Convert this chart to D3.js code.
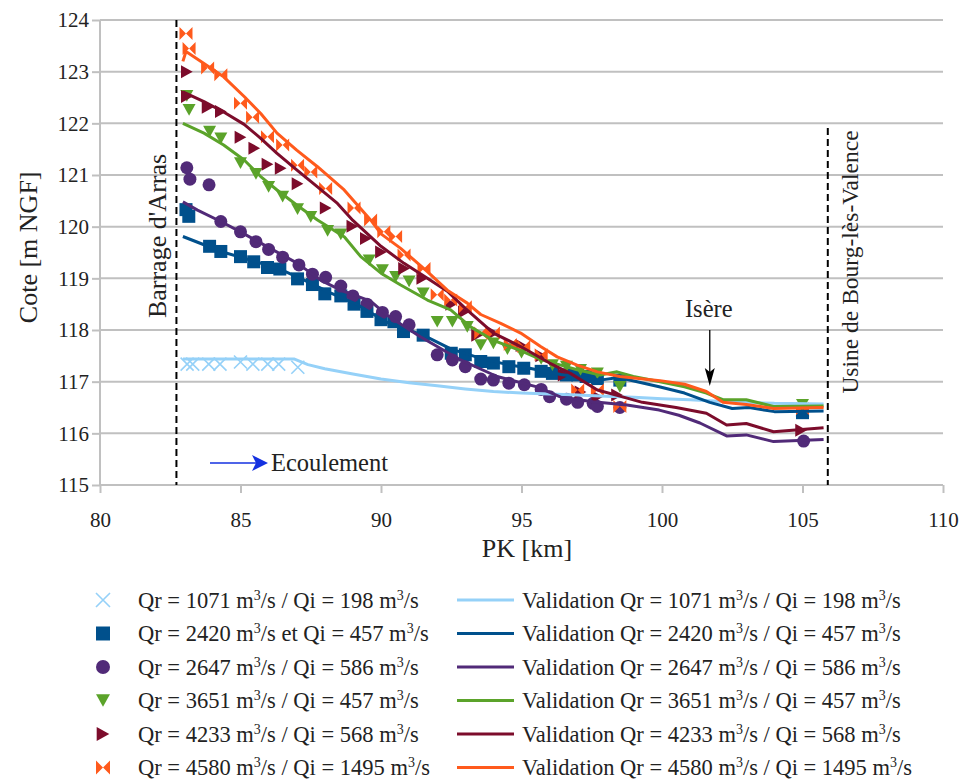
<!DOCTYPE html>
<html><head><meta charset="utf-8">
<script src="https://cdn.jsdelivr.net/npm/d3@7"></script>
<style>body{margin:0;background:#fff}svg{display:block}svg text{font-family:"Liberation Serif","Times New Roman",serif !important;fill:#222}</style>
</head><body><svg id="c" width="960" height="781" font-family="Liberation Serif"></svg>
<script>
// ---------- DATA ----------
const xTicks = [80, 85, 90, 95, 100, 105, 110];
const yTicks = [115, 116, 117, 118, 119, 120, 121, 122, 123, 124];
const seriesNames = ["1071/198", "2420/457", "2647/586", "3651/457", "4233/568", "4580/1495"];
const markerLabels = [
  ["Qr = 1071 m", "3", "/s / Qi = 198 m", "3", "/s"],
  ["Qr = 2420 m", "3", "/s et Qi = 457 m", "3", "/s"],
  ["Qr = 2647 m", "3", "/s / Qi = 586 m", "3", "/s"],
  ["Qr = 3651 m", "3", "/s / Qi = 457 m", "3", "/s"],
  ["Qr = 4233 m", "3", "/s / Qi = 568 m", "3", "/s"],
  ["Qr = 4580 m", "3", "/s / Qi = 1495 m", "3", "/s"]
];
const lineLabels = [
  ["Validation Qr = 1071 m", "3", "/s / Qi = 198 m", "3", "/s"],
  ["Validation Qr = 2420 m", "3", "/s / Qi = 457 m", "3", "/s"],
  ["Validation Qr = 2647 m", "3", "/s / Qi = 586 m", "3", "/s"],
  ["Validation Qr = 3651 m", "3", "/s / Qi = 457 m", "3", "/s"],
  ["Validation Qr = 4233 m", "3", "/s / Qi = 568 m", "3", "/s"],
  ["Validation Qr = 4580 m", "3", "/s / Qi = 1495 m", "3", "/s"]
];
// measured points [PK km, cote m NGF]
const obs1071 = [[83.1,117.34],[83.3,117.34],[83.87,117.34],[84.27,117.34],[85.0,117.38],[85.44,117.34],[85.97,117.34],[86.36,117.34],[87.04,117.28],[105.0,116.45]];
const obs2420 = [[83.06,120.33],[83.16,120.2],[83.9,119.62],[84.3,119.52],[85.0,119.42],[85.47,119.32],[85.96,119.21],[86.4,119.18],[87.03,118.99],[87.56,118.88],[88.0,118.7],[88.57,118.66],[89.04,118.5],[89.5,118.36],[90.0,118.2],[90.46,118.16],[90.8,117.97],[91.5,117.9],[92.5,117.55],[93.0,117.52],[93.55,117.39],[94.0,117.36],[94.55,117.29],[95.08,117.26],[95.7,117.2],[96.1,117.16],[96.6,117.13],[97.0,117.13],[97.3,117.1],[97.7,117.06],[98.5,117.03],[105.0,116.4]];
const obs2647 = [[83.09,121.14],[83.2,120.92],[83.88,120.81],[84.3,120.1],[85.0,119.9],[85.55,119.71],[86.0,119.56],[86.5,119.41],[87.08,119.26],[87.56,119.08],[88.03,119.02],[88.57,118.85],[89.0,118.66],[89.5,118.5],[90.05,118.34],[90.52,118.26],[91.0,118.1],[92.0,117.52],[92.54,117.42],[93.0,117.29],[93.55,117.05],[94.0,117.03],[94.55,116.97],[95.1,116.94],[95.7,116.85],[96.0,116.71],[96.6,116.66],[97.0,116.6],[97.55,116.58],[97.7,116.52],[98.5,116.5],[105.04,115.85]];
const obs3651 = [[83.09,122.53],[83.17,122.26],[83.9,121.84],[84.3,121.71],[85.0,121.23],[85.55,121.02],[86.0,120.77],[86.5,120.58],[87.03,120.34],[87.5,120.19],[88.1,119.92],[88.57,119.85],[89.58,119.35],[90.05,119.16],[90.52,119.03],[91.0,118.94],[91.5,118.71],[92.0,118.16],[92.54,118.16],[93.07,118.06],[93.55,117.71],[94.0,117.74],[94.5,117.63],[95.0,117.56],[95.7,117.44],[96.1,117.32],[96.6,117.29],[97.1,117.23],[97.7,117.16],[98.5,116.9],[105.0,116.55]];
const obs4233 = [[83.09,123.0],[83.09,122.52],[83.83,122.31],[84.3,122.23],[85.0,121.73],[85.49,121.52],[85.96,121.21],[86.43,121.13],[87.03,120.83],[88.03,120.36],[88.98,120.01],[89.46,119.77],[90.0,119.51],[90.82,119.19],[91.47,119.0],[92.5,118.5],[92.95,118.35],[93.42,117.9],[94.0,117.94],[95.0,117.7],[95.7,117.5],[96.5,117.13],[97.1,116.8],[97.7,116.71],[98.4,116.74],[104.95,116.06]];
const obs4580 = [[83.06,123.74],[83.17,123.45],[83.83,123.07],[84.3,122.94],[85.0,122.39],[85.43,122.12],[85.96,121.74],[86.5,121.58],[87.03,121.19],[87.5,121.06],[88.03,120.74],[89.04,120.36],[89.63,120.13],[90.1,119.9],[90.52,119.81],[90.82,119.45],[91.53,119.19],[92.0,118.68],[92.48,118.58],[93.0,118.45],[93.55,117.94],[94.0,117.94],[94.6,117.72],[95.08,117.68],[95.7,117.52],[97.0,116.84],[97.7,116.84],[98.5,116.52],[105.0,116.48]];
// validation (model) lines
const val1071 = [[82.95,117.44],[86.9,117.44],[87.4,117.33],[88,117.25],[89,117.15],[90,117.05],[91,116.98],[92,116.92],[93,116.86],[94,116.81],[95,116.78],[96,116.76],[97,116.74],[98,116.72],[99,116.7],[100,116.67],[101,116.65],[102,116.62],[103,116.6],[104,116.58],[105.75,116.57]];
const val2420 = [[82.95,119.81],[83.7,119.65],[84.3,119.52],[85.5,119.33],[86.4,119.18],[87.25,118.97],[88.2,118.72],[89.2,118.48],[90.2,118.15],[91.5,117.9],[92.5,117.63],[93.5,117.46],[94.5,117.33],[95.2,117.27],[96.4,117.14],[97.4,117.06],[97.8,117.03],[98.45,117.08],[99.9,116.9],[100.8,116.78],[101.7,116.6],[102.5,116.48],[103.1,116.5],[104,116.42],[105.75,116.43]];
const val2647 = [[82.95,120.48],[83.47,120.32],[84.3,120.1],[85,119.9],[85.96,119.61],[87.03,119.29],[87.86,118.96],[88.57,118.77],[89.63,118.56],[90.23,118.28],[91.4,117.87],[92.83,117.42],[94.13,117.1],[95.55,116.9],[96.4,116.7],[97.55,116.61],[98.75,116.55],[99.9,116.45],[100.6,116.35],[101.35,116.2],[102.3,115.95],[103,115.97],[103.97,115.84],[105.75,115.88]];
const val3651 = [[82.95,122.0],[83.7,121.81],[84.4,121.58],[85.13,121.29],[85.72,120.97],[86.3,120.71],[87,120.42],[87.74,120.13],[88.7,119.8],[89.28,119.42],[90,119.1],[90.7,118.87],[91.65,118.58],[92.48,118.39],[93.19,118.06],[94,117.8],[94.97,117.6],[95.68,117.43],[96.4,117.32],[96.98,117.23],[97.8,117.13],[98.4,117.19],[98.98,117.1],[99.93,117.0],[100.8,116.9],[101.58,116.78],[102.17,116.65],[103,116.65],[103.97,116.52],[105.75,116.53]];
const val4233 = [[82.95,122.61],[83.7,122.42],[84.4,122.22],[85.13,121.98],[85.72,121.71],[86.3,121.42],[87,121.1],[87.74,120.77],[88.45,120.45],[89.0,120.12],[90,119.62],[90.82,119.29],[91.65,119.0],[92.36,118.75],[93.0,118.42],[94,117.94],[94.97,117.68],[96,117.36],[96.74,117.16],[97.7,116.84],[98.5,116.72],[99.3,116.6],[100.5,116.5],[101.58,116.39],[102.3,116.16],[103,116.19],[103.97,116.03],[105.75,116.11]];
const val4580 = [[82.95,123.2],[83.06,123.39],[83.7,123.16],[84.4,122.9],[85.13,122.52],[85.72,122.19],[86.3,121.81],[87,121.48],[87.74,121.16],[88.69,120.71],[89.63,120.13],[90,119.86],[90.7,119.58],[91.65,119.13],[92.36,118.77],[93.07,118.52],[93.55,118.3],[94.26,118.13],[94.97,117.94],[95.68,117.68],[96.27,117.48],[96.98,117.32],[97.7,117.19],[98.5,117.1],[99.93,117.02],[100.8,116.95],[101.58,116.81],[102.17,116.6],[103,116.56],[103.97,116.48],[105.75,116.5]];
const barragePK = 82.72, usinePK = 105.9, iserePK = 101.7;

// ---------- STYLE ----------
const colors = ["#95d1f8", "#00508c", "#512a78", "#5ba32a", "#7c0c2b", "#ff5a1c"];
const shapes = ["x", "square", "circle", "down", "right", "bowtie"];
const obsAll = [obs1071, obs2420, obs2647, obs3651, obs4233, obs4580];
const valAll = [val1071, val2420, val2647, val3651, val4233, val4580];
const SERIF = "font-family:'Liberation Serif','Times New Roman',serif";

const svg = d3.select("#c");
const x = d3.scaleLinear().domain([80, 110]).range([100, 943]);
const y = d3.scaleLinear().domain([115, 124]).range([485, 20]);
const FS_TICK = 21, FS_LEG = 22.5, FS_TITLE = 26, FS_ANN = 24.5;

function txt(sel) { return sel.append("text").attr("style", SERIF).attr("fill", "#222"); }

// grid
svg.append("g").selectAll("line").data(yTicks.slice(1)).join("line")
  .attr("x1", x(80)).attr("x2", x(110)).attr("y1", d => y(d)).attr("y2", d => y(d))
  .attr("stroke", "#c0c0c0").attr("stroke-width", 2);

// axes
const gx = svg.append("g").attr("transform", `translate(0,${y(115)})`)
  .call(d3.axisBottom(x).tickValues(xTicks).tickSize(8).tickPadding(19).tickFormat(d3.format("d")));
const gy = svg.append("g").attr("transform", `translate(${x(80)},0)`)
  .call(d3.axisLeft(y).tickValues(yTicks).tickSize(8).tickPadding(3).tickFormat(d3.format("d")));
[gx, gy].forEach(g => {
  g.attr("font-family", null).attr("font-size", null);
  g.select(".domain").attr("stroke", "#c0c0c0").attr("stroke-width", 2);
  g.selectAll(".tick line").attr("stroke", "#c0c0c0").attr("stroke-width", 2);
  g.selectAll(".tick text").attr("style", SERIF).attr("font-size", FS_TICK).attr("fill", "#222");
});
gy.select(".domain").attr("d", `M0,${y(115)}V${y(124)}`);
gx.select(".domain").attr("d", `M${x(80)},0H${x(110)}`);

txt(svg).attr("x", 527).attr("y", 557).attr("text-anchor", "middle")
  .attr("font-size", FS_TITLE).text("PK [km]");
txt(svg).attr("transform", `translate(37,${y(119.6)}) rotate(-90)`).attr("text-anchor", "middle")
  .attr("font-size", FS_TITLE).text("Cote [m NGF]");

// marker symbol paths
function markerPath(shape, s) {
  const h = s / 2;
  switch (shape) {
    case "x": return `M${-h},${-h}L${h},${h}M${-h},${h}L${h},${-h}`;
    case "square": return `M${-h},${-h}H${h}V${h}H${-h}Z`;
    case "circle": return d3.symbol(d3.symbolCircle, Math.PI * h * h)();
    case "down": return `M${-h},${-h * 0.9}L${h},${-h * 0.9}L0,${h * 0.9}Z`;
    case "right": return `M${-h * 0.9},${-h}L${h * 0.9},0L${-h * 0.9},${h}Z`;
    case "bowtie": return `M${-h},${-h}L0,0L${-h},${h}ZM${h},${-h}L0,0L${h},${h}Z`;
  }
}
function drawMarker(g, shape, color, s) {
  const p = g.append("path").attr("d", markerPath(shape, s));
  if (shape === "x") p.attr("fill", "none").attr("stroke", color).attr("stroke-width", 1.6);
  else p.attr("fill", color);
  return p;
}

// markers
obsAll.forEach((pts, i) => {
  const g = svg.append("g");
  pts.forEach(d => {
    const m = g.append("g").attr("transform", `translate(${x(d[0])},${y(d[1])})`);
    drawMarker(m, shapes[i], colors[i], 13);
  });
});

// validation lines
const line = d3.line().x(d => x(d[0])).y(d => y(d[1]));
valAll.forEach((pts, i) => {
  svg.append("path").datum(pts).attr("d", line).attr("fill", "none")
    .attr("stroke", colors[i]).attr("stroke-width", 3).attr("stroke-linejoin", "round");
});

// dashed reference lines
svg.append("line").attr("x1", x(barragePK)).attr("x2", x(barragePK)).attr("y1", y(124)).attr("y2", y(115))
  .attr("stroke", "#000").attr("stroke-width", 2).attr("stroke-dasharray", "7,4");
svg.append("line").attr("x1", x(usinePK)).attr("x2", x(usinePK)).attr("y1", 128).attr("y2", y(115))
  .attr("stroke", "#000").attr("stroke-width", 2).attr("stroke-dasharray", "7,4");
txt(svg).attr("transform", `translate(${x(barragePK) - 10},${236}) rotate(-90)`)
  .attr("text-anchor", "middle").attr("font-size", 26).text("Barrage d'Arras");
txt(svg).attr("transform", `translate(${x(usinePK) + 30},${262}) rotate(-90)`)
  .attr("text-anchor", "middle").attr("font-size", 23.5).text("Usine de Bourg-lès-Valence");

// Isère arrow
txt(svg).attr("x", x(iserePK) - 1).attr("y", 317).attr("text-anchor", "middle").attr("font-size", FS_ANN).text("Isère");
svg.append("line").attr("x1", x(iserePK)).attr("x2", x(iserePK)).attr("y1", 330).attr("y2", 376)
  .attr("stroke", "#000").attr("stroke-width", 1.3);
svg.append("path").attr("d", `M${x(iserePK) - 5},368L${x(iserePK)},386L${x(iserePK) + 5},368L${x(iserePK)},372Z`).attr("fill", "#000");

// Ecoulement arrow
svg.append("line").attr("x1", 210).attr("x2", 258).attr("y1", 463).attr("y2", 463).attr("stroke", "#1431e0").attr("stroke-width", 1.6);
svg.append("path").attr("d", "M252,455L268,463L252,471L256,463Z").attr("fill", "#1431e0");
txt(svg).attr("x", 271).attr("y", 471).attr("font-size", FS_ANN).text("Ecoulement");

// legend
function richText(g, parts, tx, ty) {
  const t = txt(g).attr("x", tx).attr("y", ty).attr("font-size", FS_LEG);
  parts.forEach((p, k) => {
    const s = t.append("tspan").text(p);
    if (k % 2 === 1) s.attr("font-size", 14).attr("dy", -8);
    else if (k > 0) s.attr("dy", 8);
  });
}
const legendY = [600, 633.5, 667, 700.5, 734, 767.5];
const lg = svg.append("g");
seriesNames.forEach((n, i) => {
  const cy = legendY[i];
  const m = lg.append("g").attr("transform", `translate(103,${cy})`);
  drawMarker(m, shapes[i], colors[i], 14);
  richText(lg, markerLabels[i], 138, cy + 7.5);
  lg.append("line").attr("x1", 457).attr("x2", 514).attr("y1", cy).attr("y2", cy)
    .attr("stroke", colors[i]).attr("stroke-width", 3);
  richText(lg, lineLabels[i], 522, cy + 7.5);
});
</script></body></html>
